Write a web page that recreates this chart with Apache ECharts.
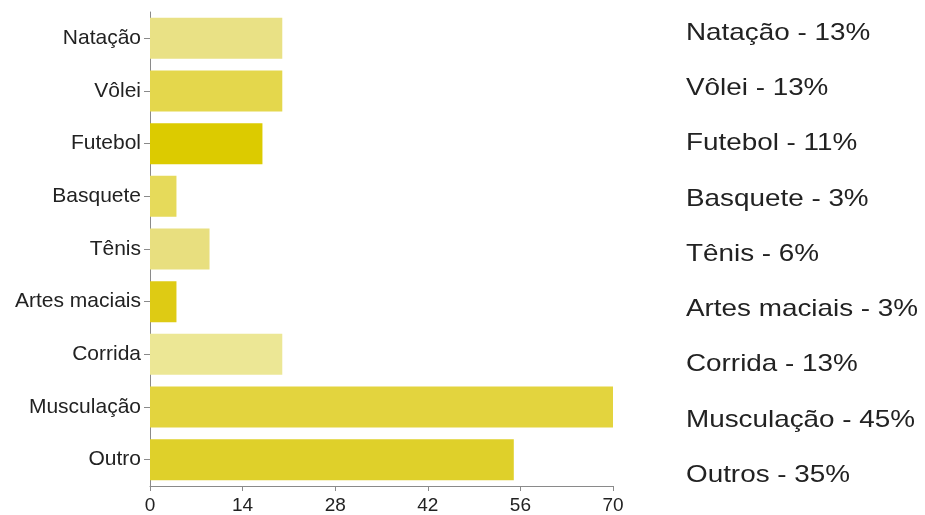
<!DOCTYPE html>
<html>
<head>
<meta charset="utf-8">
<script src="https://cdn.jsdelivr.net/npm/echarts@6/dist/echarts.min.js"></script>
<style>
  html, body { margin: 0; padding: 0; background: #fff; }
  #chart { width: 925px; height: 515px; }
</style>
</head>
<body>
<div id="chart"></div>
<script>
// categorias (de cima para baixo)
var categorias = ['Natação', 'Vôlei', 'Futebol', 'Basquete', 'Tênis', 'Artes maciais', 'Corrida', 'Musculação', 'Outro'];
var valores = [20, 20, 17, 4, 9, 4, 20, 70, 55];
var cores = ['#e9e185', '#e4d74c', '#dccb00', '#e6da5a', '#e8df7f', '#decb14', '#ece795', '#e3d43e', '#dfd02a'];
var ticksX = [0, 14, 28, 42, 56, 70];

// texto da direita
var rotulosLegenda = ['Natação', 'Vôlei', 'Futebol', 'Basquete', 'Tênis', 'Artes maciais', 'Corrida', 'Musculação', 'Outros'];
var percentuais = [13, 13, 11, 3, 6, 3, 13, 45, 35];

var myChart = echarts.init(document.getElementById('chart'));

var textos = rotulosLegenda.map(function (nome, i) {
  return {
    type: 'text',
    left: 686,
    top: 21 + i * 55.3,
    scaleX: 1.16,
    style: {
      text: nome + ' - ' + percentuais[i] + '%',
      font: '24px "Liberation Sans", Arial, sans-serif',
      fill: '#222'
    }
  };
});

var option = {
  backgroundColor: '#fff',
  animation: false,
  grid: { left: 150, right: 312, top: 12, bottom: 27, containLabel: false },
  xAxis: {
    type: 'value',
    min: 0,
    max: 70,
    interval: 14,
    axisLine: { show: true, lineStyle: { color: '#8a8a8a', width: 1 } },
    axisTick: { show: true, length: 5, lineStyle: { color: '#8a8a8a' } },
    splitLine: { show: false },
    axisLabel: {
      color: '#222',
      fontSize: 19,
      fontFamily: 'Liberation Sans',
      margin: 10,
      formatter: function (v) { return ticksX.indexOf(v) >= 0 ? String(v) : ''; }
    }
  },
  yAxis: {
    type: 'category',
    inverse: true,
    data: categorias,
    axisLine: { show: true, lineStyle: { color: '#8a8a8a', width: 1 } },
    axisTick: { show: true, alignWithLabel: true, length: 6, lineStyle: { color: '#8a8a8a' } },
    axisLabel: { color: '#222', fontSize: 21, fontFamily: 'Liberation Sans', margin: 9 }
  },
  series: [{
    type: 'bar',
    barCategoryGap: '22%',
    data: valores.map(function (v, i) {
      return { value: v, itemStyle: { color: cores[i] } };
    })
  }],
  graphic: textos
};

myChart.setOption(option);
</script>
</body>
</html>
